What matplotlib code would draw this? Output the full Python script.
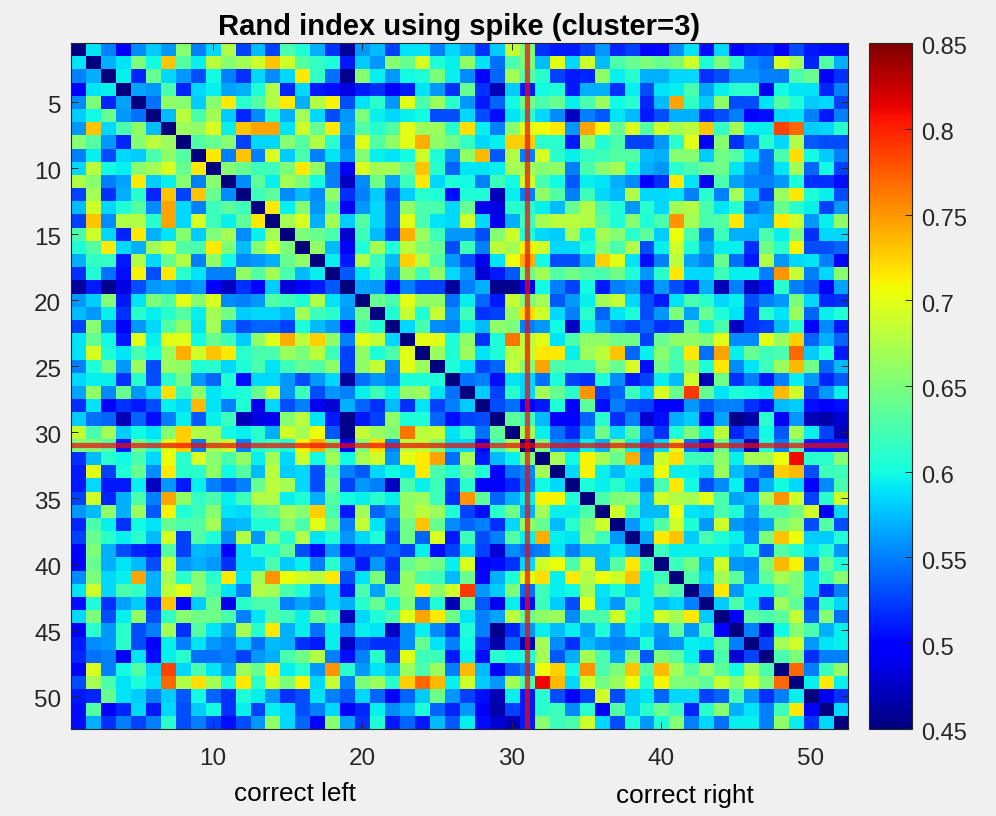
import numpy as np
import matplotlib
matplotlib.use("Agg")
import matplotlib.pyplot as plt
from matplotlib.transforms import ScaledTranslation

plt.rcParams["font.family"] = ["Liberation Sans", "DejaVu Sans"]

title = "Rand index using spike (cluster=3)"
left_label = "correct left"
right_label = "correct right"
x_ticks = [10, 20, 30, 40, 50]
y_ticks = [5, 10, 15, 20, 25, 30, 35, 40, 45, 50]
cbar_ticks = [0.45, 0.5, 0.55, 0.6, 0.65, 0.7, 0.75, 0.8, 0.85]
cbar_labels = ["0.45", "0.5", "0.55", "0.6", "0.65", "0.7", "0.75", "0.8", "0.85"]
marked_cell = 31

# upper triangle, each row starts on the diagonal
row_01 = [.45,.59,.55,.495,.555,.58,.56,.655,.55,.585,.675,.525,.575,.525,.625,.605,.57,.52,.46,.56,.575,.525,.59,.59,.55,.585,.565,.52,.58,.685,.65,.52,.51,.51,.525,.56,.515,.525,.495,.495,.555,.59,.505,.585,.495,.51,.515,.5,.53,.51,.505,.505]
row_02 = [.45,.57,.59,.65,.60,.73,.63,.595,.68,.655,.67,.69,.73,.69,.63,.615,.605,.51,.58,.56,.655,.64,.695,.605,.595,.66,.59,.545,.625,.65,.575,.70,.585,.69,.575,.625,.64,.65,.64,.65,.69,.605,.65,.61,.555,.545,.695,.67,.515,.63,.57]
row_03 = [.45,.595,.515,.64,.585,.56,.53,.60,.55,.52,.585,.555,.585,.715,.615,.545,.455,.655,.595,.56,.60,.605,.65,.595,.555,.495,.54,.67,.63,.61,.525,.51,.515,.66,.595,.61,.57,.57,.585,.585,.52,.53,.56,.56,.55,.55,.625,.64,.495,.52]
row_04 = [.45,.565,.56,.625,.515,.585,.595,.565,.57,.605,.675,.515,.585,.51,.505,.485,.51,.52,.50,.51,.59,.56,.52,.64,.52,.47,.58,.51,.60,.605,.51,.57,.57,.52,.595,.53,.59,.595,.625,.565,.595,.61,.61,.49,.60,.59,.59,.515,.55]
row_05 = [.45,.545,.66,.655,.58,.655,.715,.61,.63,.675,.715,.57,.675,.71,.53,.59,.61,.56,.70,.625,.665,.61,.56,.51,.54,.60,.645,.625,.64,.595,.625,.665,.60,.61,.515,.575,.745,.615,.58,.66,.53,.53,.59,.63,.605,.58,.585,.525]
row_06 = [.45,.575,.68,.625,.67,.58,.515,.555,.61,.57,.67,.585,.53,.56,.65,.595,.585,.595,.60,.53,.53,.585,.53,.505,.59,.61,.585,.555,.475,.55,.535,.59,.575,.51,.53,.57,.57,.515,.53,.55,.50,.505,.585,.59,.55,.51,.55]
row_07 = [.45,.665,.66,.695,.595,.73,.745,.745,.59,.69,.64,.715,.565,.63,.61,.63,.70,.665,.665,.61,.72,.595,.55,.655,.70,.705,.715,.56,.745,.71,.64,.695,.63,.69,.67,.68,.73,.615,.67,.595,.595,.785,.77,.58,.585,.61]
row_08 = [.45,.63,.64,.655,.525,.585,.585,.655,.63,.675,.61,.55,.70,.63,.66,.70,.74,.66,.645,.615,.585,.595,.725,.725,.61,.61,.51,.66,.605,.625,.525,.525,.56,.61,.70,.495,.655,.52,.55,.61,.585,.675,.535,.53,.53]
row_09 = [.45,.715,.55,.73,.55,.695,.58,.625,.55,.59,.56,.655,.595,.59,.60,.69,.605,.56,.66,.735,.535,.675,.55,.695,.61,.595,.615,.62,.63,.63,.575,.57,.655,.655,.58,.645,.63,.59,.545,.625,.72,.60,.58,.55]
row_10 = [.45,.655,.64,.62,.62,.65,.715,.66,.55,.50,.695,.67,.67,.64,.73,.61,.54,.59,.59,.595,.67,.67,.655,.66,.55,.625,.655,.67,.605,.57,.56,.61,.625,.64,.645,.59,.56,.545,.59,.67,.54,.60,.525]
row_11 = [.45,.555,.635,.595,.67,.65,.60,.55,.475,.555,.645,.565,.62,.715,.585,.605,.60,.55,.62,.60,.69,.625,.60,.535,.595,.59,.57,.555,.495,.52,.715,.59,.49,.625,.565,.55,.55,.56,.605,.52,.52,.505]
row_12 = [.45,.62,.635,.555,.575,.555,.66,.52,.55,.58,.53,.58,.61,.605,.505,.605,.605,.47,.595,.55,.66,.63,.55,.62,.585,.575,.675,.585,.585,.59,.55,.61,.55,.67,.58,.525,.665,.715,.605,.595,.53]
row_13 = [.45,.715,.595,.655,.56,.63,.50,.56,.585,.54,.66,.625,.625,.585,.64,.49,.485,.61,.61,.595,.575,.64,.675,.625,.605,.56,.61,.585,.67,.675,.625,.59,.61,.545,.56,.64,.61,.595,.525,.56]
row_14 = [.45,.67,.695,.57,.67,.58,.63,.585,.54,.70,.625,.59,.585,.69,.585,.49,.57,.62,.67,.68,.68,.675,.635,.605,.655,.605,.625,.75,.67,.625,.63,.715,.575,.57,.715,.69,.56,.595,.66]
row_15 = [.45,.65,.64,.625,.48,.62,.575,.525,.74,.665,.62,.56,.56,.53,.655,.69,.605,.585,.58,.67,.595,.67,.655,.61,.635,.58,.705,.625,.55,.62,.57,.57,.625,.595,.65,.52,.585,.585]
row_16 = [.45,.66,.575,.50,.605,.67,.605,.68,.65,.64,.53,.62,.55,.68,.67,.71,.69,.585,.585,.605,.655,.625,.675,.53,.595,.69,.605,.565,.595,.595,.52,.645,.61,.71,.53,.53,.54]
row_17 = [.45,.595,.51,.675,.62,.575,.725,.68,.63,.56,.53,.49,.59,.705,.74,.60,.53,.53,.57,.725,.70,.59,.505,.55,.68,.565,.55,.64,.545,.51,.675,.56,.585,.59,.55,.495]
row_18 = [.45,.535,.59,.61,.56,.66,.62,.66,.585,.56,.48,.51,.535,.645,.67,.63,.645,.63,.625,.645,.605,.56,.61,.715,.585,.585,.62,.595,.595,.55,.75,.685,.55,.585,.655]
row_19 = [.45,.565,.56,.495,.55,.525,.525,.46,.55,.57,.455,.455,.49,.60,.55,.525,.60,.51,.55,.56,.51,.56,.53,.51,.57,.47,.55,.475,.505,.61,.55,.535,.495,.565]
row_20 = [.45,.64,.625,.70,.66,.66,.545,.595,.54,.51,.685,.65,.67,.535,.56,.595,.67,.685,.585,.53,.51,.59,.625,.61,.585,.595,.53,.55,.56,.65,.585,.515,.52]
row_21 = [.45,.605,.685,.605,.685,.56,.62,.52,.525,.665,.72,.69,.585,.55,.61,.54,.59,.605,.53,.56,.65,.565,.64,.605,.59,.52,.61,.59,.665,.54,.595,.605]
row_22 = [.45,.585,.625,.555,.55,.595,.575,.66,.65,.55,.56,.60,.475,.595,.56,.54,.525,.54,.52,.525,.64,.595,.625,.475,.52,.525,.575,.61,.495,.555,.51]
row_23 = [.45,.70,.70,.605,.66,.52,.605,.765,.68,.70,.59,.625,.66,.66,.645,.645,.525,.64,.66,.66,.65,.70,.555,.555,.70,.665,.725,.54,.57,.54]
row_24 = [.45,.665,.605,.665,.59,.605,.68,.685,.715,.715,.595,.665,.68,.73,.54,.595,.655,.625,.715,.545,.745,.595,.64,.62,.625,.77,.58,.605,.51]
row_25 = [.45,.605,.59,.525,.54,.685,.655,.745,.625,.62,.62,.665,.64,.695,.505,.645,.62,.66,.605,.715,.555,.59,.62,.665,.735,.645,.54,.575]
row_26 = [.45,.545,.55,.505,.59,.585,.545,.605,.525,.52,.605,.555,.51,.525,.595,.575,.69,.47,.645,.52,.55,.51,.55,.595,.56,.515,.535]
row_27 = [.45,.58,.525,.61,.585,.67,.64,.61,.75,.525,.54,.62,.585,.695,.64,.79,.64,.59,.605,.60,.595,.735,.69,.525,.56,.595]
row_28 = [.45,.53,.545,.50,.51,.605,.50,.635,.505,.55,.53,.525,.50,.50,.56,.535,.55,.55,.52,.505,.575,.58,.505,.50,.505]
row_29 = [.45,.635,.62,.575,.495,.495,.54,.61,.52,.55,.48,.505,.57,.58,.49,.565,.455,.465,.61,.495,.56,.47,.465,.48]
row_30 = [.45,.67,.595,.545,.515,.57,.645,.585,.63,.555,.52,.605,.65,.595,.68,.515,.54,.60,.535,.67,.595,.525,.47]
row_31 = [.45,.65,.555,.55,.595,.57,.66,.595,.545,.585,.70,.545,.505,.64,.56,.47,.605,.55,.625,.51,.51,.51]
row_32 = [.45,.67,.60,.71,.67,.64,.74,.55,.69,.72,.62,.62,.66,.595,.67,.67,.705,.81,.61,.61,.655]
row_33 = [.45,.585,.71,.595,.575,.595,.59,.705,.595,.595,.58,.665,.575,.555,.535,.725,.735,.53,.62,.62]
row_34 = [.45,.605,.595,.61,.59,.55,.625,.715,.60,.53,.555,.595,.52,.57,.60,.585,.495,.555,.625]
row_35 = [.45,.625,.65,.655,.575,.69,.675,.67,.70,.625,.565,.575,.67,.75,.69,.525,.61,.69]
row_36 = [.45,.69,.62,.575,.575,.705,.59,.585,.625,.605,.56,.625,.625,.645,.69,.495,.585]
row_37 = [.45,.56,.59,.63,.69,.605,.56,.69,.56,.55,.565,.65,.665,.53,.63,.53]
row_38 = [.45,.565,.715,.73,.58,.625,.605,.595,.555,.65,.73,.705,.58,.58,.605]
row_39 = [.45,.62,.595,.595,.595,.595,.58,.605,.535,.63,.61,.59,.61,.56]
row_40 = [.45,.62,.645,.575,.69,.56,.555,.65,.735,.71,.54,.64,.605]
row_41 = [.45,.625,.585,.67,.635,.56,.635,.67,.65,.585,.62,.655]
row_42 = [.45,.55,.715,.56,.595,.595,.63,.65,.585,.515,.55]
row_43 = [.45,.58,.625,.59,.52,.665,.635,.525,.61,.585]
row_44 = [.45,.495,.635,.625,.635,.685,.54,.655,.545]
row_45 = [.45,.55,.48,.60,.655,.625,.57,.595]
row_46 = [.45,.525,.67,.69,.56,.59,.595]
row_47 = [.45,.625,.65,.52,.55,.55]
row_48 = [.45,.77,.55,.62,.66]
row_49 = [.45,.595,.715,.595]
row_50 = [.45,.495,.52]
row_51 = [.45,.585]
row_52 = [.45]

rows = [row_01, row_02, row_03, row_04, row_05, row_06, row_07, row_08, row_09, row_10,
        row_11, row_12, row_13, row_14, row_15, row_16, row_17, row_18, row_19, row_20,
        row_21, row_22, row_23, row_24, row_25, row_26, row_27, row_28, row_29, row_30,
        row_31, row_32, row_33, row_34, row_35, row_36, row_37, row_38, row_39, row_40,
        row_41, row_42, row_43, row_44, row_45, row_46, row_47, row_48, row_49, row_50,
        row_51, row_52]

n = len(rows)
matrix = np.zeros((n, n))
for i, row in enumerate(rows):
    matrix[i, i:] = row
    matrix[i:, i] = row

W, H = 996, 816
bg = "#f0f0f0"
ink = "#262626"

fig = plt.figure(figsize=(W / 100, H / 100), dpi=100, facecolor=bg)
ax = fig.add_axes([71 / W, 1 - 729 / H, 777 / W, 686 / H])
im = ax.imshow(matrix, cmap="jet", vmin=0.45, vmax=0.85, aspect="auto",
               interpolation="nearest", extent=(0.5, n + 0.5, n + 0.5, 0.5))

ax.axvline(marked_cell, color="#ee0a0a", alpha=0.72, lw=3.8)
ax.axhline(marked_cell, color="#ee0a0a", alpha=0.72, lw=3.8)

ax.set_xticks(x_ticks)
ax.set_yticks(y_ticks)
ax.tick_params(direction="in", length=5, width=0.7, color=ink, labelcolor=ink,
               labelsize=17.5, top=True, right=True)
ax.tick_params(axis="x", pad=13.5)
ax.tick_params(axis="y", pad=7)
for s in ax.spines.values():
    s.set_color(ink)
    s.set_linewidth(0.8)
ax.set_title(title, fontsize=21, fontweight="bold", color="black", pad=5.5)

fig.text(295 / W, 1 - 801 / H, left_label, ha="center", va="baseline", fontsize=18.8, color="black")
fig.text(685 / W, 1 - 803 / H, right_label, ha="center", va="baseline", fontsize=18.8, color="black")

cax = fig.add_axes([869 / W, 1 - 729 / H, 42.5 / W, 686 / H])
cb = fig.colorbar(im, cax=cax)
cb.set_ticks(cbar_ticks)
cb.set_ticklabels(cbar_labels)
cb.ax.tick_params(direction="in", length=5, width=0.7, color=ink, labelcolor=ink,
                  labelsize=17, pad=7)
cb.outline.set_edgecolor(ink)
cb.outline.set_linewidth(0.8)

# tick labels in the reference sit a little below their ticks
nudge_y = ScaledTranslation(0, -1.5 / 72, fig.dpi_scale_trans)
for label in ax.get_yticklabels():
    label.set_transform(label.get_transform() + nudge_y)
nudge_cb = ScaledTranslation(0, -2 / 72, fig.dpi_scale_trans)
for label in cb.ax.get_yticklabels():
    label.set_transform(label.get_transform() + nudge_cb)

fig.savefig("out.png", dpi=100, facecolor=bg)
